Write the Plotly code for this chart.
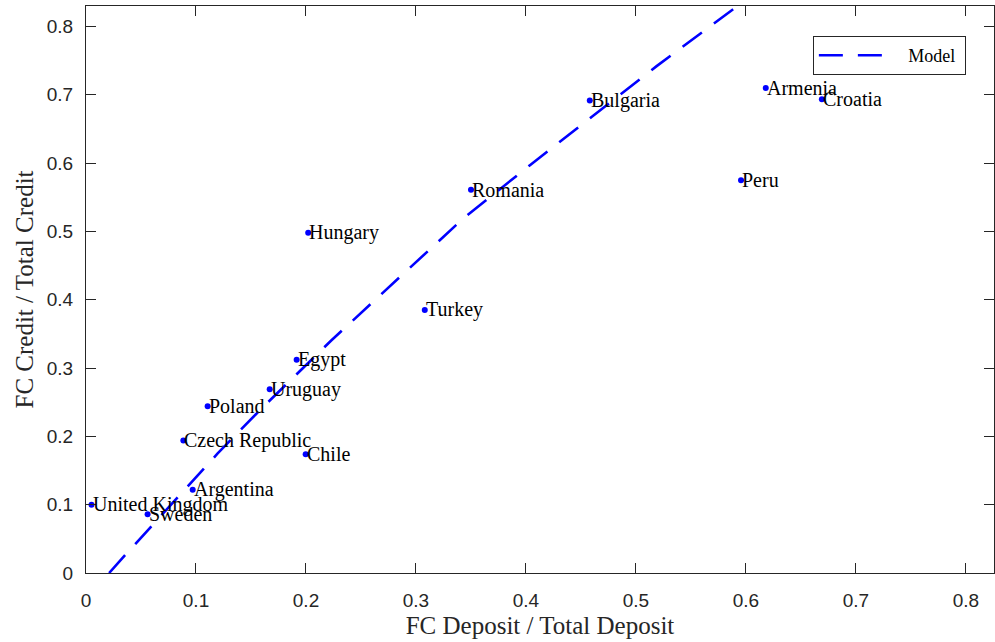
import plotly.graph_objects as go

countries = ["United Kingdom", "Sweden", "Argentina", "Czech Republic", "Chile",
             "Poland", "Uruguay", "Egypt", "Hungary", "Turkey", "Romania",
             "Bulgaria", "Armenia", "Croatia", "Peru"]
fc_deposit = [0.005, 0.056, 0.097, 0.0885, 0.1997, 0.1106, 0.167, 0.1915,
              0.202, 0.308, 0.350, 0.458, 0.618, 0.669, 0.5955]
fc_credit = [0.100, 0.086, 0.122, 0.194, 0.174, 0.244, 0.269, 0.312,
             0.498, 0.385, 0.561, 0.6915, 0.710, 0.6935, 0.575]

model_x = [0.021, 0.0355, 0.1197, 0.1597, 0.2227, 0.293, 0.343, 0.4036, 0.5188, 0.594]
model_y = [0.0, 0.026, 0.175, 0.241, 0.340, 0.445, 0.519, 0.597, 0.742, 0.832]

x_ticks = [0, 0.1, 0.2, 0.3, 0.4, 0.5, 0.6, 0.7, 0.8]
y_ticks = [0, 0.1, 0.2, 0.3, 0.4, 0.5, 0.6, 0.7, 0.8]
tick_text = ["0", "0.1", "0.2", "0.3", "0.4", "0.5", "0.6", "0.7", "0.8"]

AX = "#262626"
SERIF = "Liberation Serif, Times New Roman, serif"
SANS = "Liberation Sans, Arial, Helvetica, sans-serif"

fig = go.Figure()
fig.add_trace(go.Scatter(
    x=model_x, y=model_y, mode="lines", name="\u00a0\u00a0\u00a0Model\u00a0",
    line=dict(color="#0000FF", width=2.6, dash="24px,15px"),
    showlegend=True,
))
fig.add_trace(go.Scatter(
    x=fc_deposit, y=fc_credit, mode="markers", name="data",
    marker=dict(color="#0000FF", size=6),
    showlegend=False,
))
for c, xv, yv in zip(countries, fc_deposit, fc_credit):
    fig.add_annotation(x=xv, y=yv, text=c, showarrow=False,
                       xanchor="left", yanchor="middle", xshift=-1,
                       font=dict(family=SERIF, size=20, color="#000000"))

axis_common = dict(
    showline=True, linecolor=AX, linewidth=1, mirror="allticks",
    ticks="inside", ticklen=10, tickwidth=1, tickcolor=AX,
    showgrid=False, zeroline=False,
    tickfont=dict(family=SANS, size=19, color=AX),
    automargin=False,
)
fig.update_xaxes(range=[0, 0.8255], tickvals=x_ticks, ticktext=tick_text,
                 title=dict(text="FC Deposit / Total Deposit",
                            font=dict(family=SERIF, size=25, color=AX), standoff=6),
                 ticklabelstandoff=10, **axis_common)
fig.update_yaxes(range=[0, 0.830], tickvals=y_ticks, ticktext=tick_text,
                 title=dict(text="FC Credit / Total Credit",
                            font=dict(family=SERIF, size=25, color=AX), standoff=6),
                 ticklabelstandoff=8, **axis_common)

fig.update_layout(
    width=995, height=642,
    margin=dict(l=86, r=1, t=6, b=69),
    plot_bgcolor="white", paper_bgcolor="white",
    legend=dict(x=0.969, y=0.947, xanchor="right", yanchor="top",
                bordercolor=AX, borderwidth=1, bgcolor="white",
                font=dict(family=SERIF, size=18, color="#000000"),
                itemwidth=71),
)

fig.write_html("out.html", config={"displayModeBar": False},
               post_script="document.body.style.margin='0';document.body.style.padding='0';")
